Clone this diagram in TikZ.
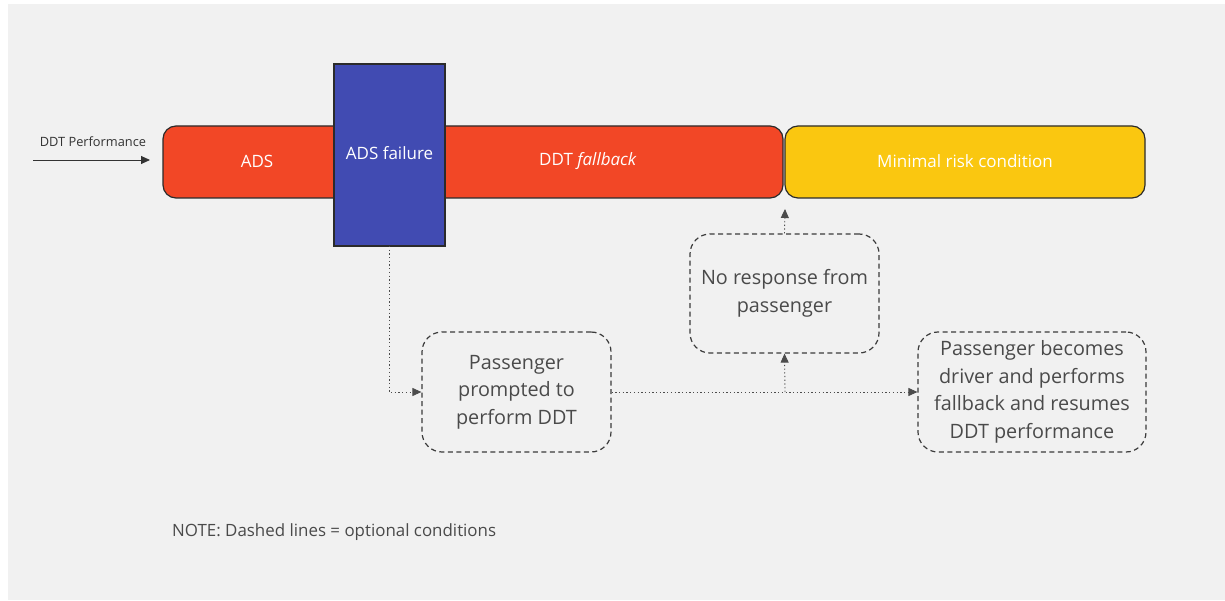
\documentclass[tikz,border=0pt]{standalone}
\usepackage{fontspec}
\setmainfont{Open Sans}
\usetikzlibrary{arrows.meta}
\definecolor{bgGrey}{HTML}{F1F1F1}
\definecolor{adsRed}{HTML}{F24726}
\definecolor{mrcYellow}{HTML}{FAC710}
\definecolor{failBlue}{HTML}{414BB2}
\definecolor{edgeDark}{HTML}{2B2B2B}
\definecolor{txtGrey}{HTML}{4A4A4A}
\tikzset{
  x=1pt, y=-1pt,
  bar/.style={draw=edgeDark, line width=1.2pt, rounded corners=13pt},
  bartext/.style={text=white, font=\fontsize{17}{20}\selectfont},
  optbox/.style={draw=txtGrey!80!black, dashed, dash pattern=on 5pt off 3.5pt, line width=1.2pt,
    rounded corners=20pt, text=txtGrey, align=center, inner sep=0pt,
    font=\fontsize{19.8}{27.5}\selectfont},
  optline/.style={draw=black!70, dash pattern=on 1.3pt off 2.4pt, line width=0.9pt},
  tip/.style={-{Triangle[length=9pt,width=8pt]}},
}
\begin{document}
\begin{tikzpicture}
\useasboundingbox (0,0) rectangle (1225,601);
\fill[white] (0,0) rectangle (1225,601);
\fill[bgGrey] (8,4) rectangle (1225,600);

% main timeline bars
\draw[bar, fill=adsRed] (163,126) rectangle (783,198);
\draw[bar, fill=mrcYellow] (785,126) rectangle (1145,198);
\node[bartext] (ads) at (257,161) {ADS};
\node[bartext] (fb) at (588,161) {DDT \textit{fallback}};
\node[bartext] (mrc) at (965,161) {Minimal risk condition};
\coordinate (mrcin) at (785,209);

% failure block overlapping the bar
\draw[draw=edgeDark, line width=1.2pt, fill=failBlue] (334,64) rectangle (445,246);
\coordinate (failbot) at (389,246);
\node[bartext] (fail) at (389.5,153) {ADS failure};

% incoming DDT performance
\node[font=\fontsize{12.8}{15}\selectfont, text=black!80] (perf) at (93,142) {DDT Performance};
\coordinate (perfstart) at (33,160);
\coordinate (perfend) at (150,160);
\draw[line width=0.9pt, black!80, tip] (perfstart) -- (perfend);

% optional condition boxes
\node[optbox, minimum width=189pt, minimum height=120pt] (prompt) at (516.5,392) {Passenger\\prompted to\\perform DDT};
\node[optbox, minimum width=189pt, minimum height=119pt] (nores) at (784.5,293.5) {No response from\\passenger};
\node[optbox, minimum width=228pt, minimum height=120pt] (driver) at (1032,392) {Passenger becomes\\driver and performs\\fallback and resumes\\DDT performance};

% optional connectors
\coordinate (split) at (785,392);
\draw[optline, tip] (failbot) |- (prompt.west);
\draw[optline, tip] (prompt.east) -- (driver.west);
\draw[optline, tip] (split) -- (nores.south);
\draw[optline, tip] (nores.north) -- (mrcin);

% note
\node[anchor=west, inner sep=0pt, text=txtGrey, font=\fontsize{16.9}{20}\selectfont] (note) at (172,532) {NOTE: Dashed lines = optional conditions};
\end{tikzpicture}
\end{document}
